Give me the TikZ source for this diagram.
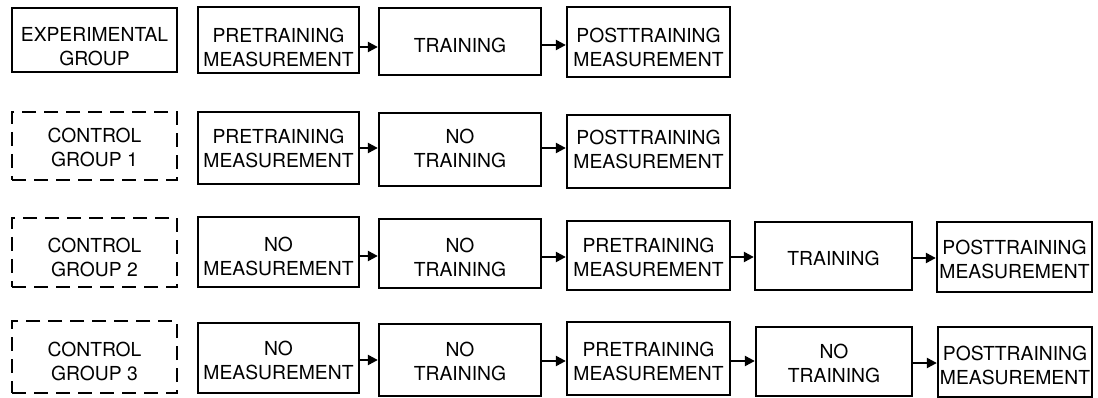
\documentclass[tikz,border=0pt]{standalone}
\usepackage{fontspec}
\setmainfont{TeX Gyre Heros}
\usetikzlibrary{arrows.meta}

% box with its label: style, name, x1, y1, x2, y2, label y, label
\newcommand\flowbox[8]{%
  \pgfmathsetmacro\bw{#5-#3}%
  \pgfmathsetmacro\bh{#6-#4}%
  \node[#1, minimum width=\bw pt, minimum height=\bh pt] (#2) at ({(#3+#5)/2},{(#4+#6)/2}) {};
  \node[lbl] (#2-t) at ({(#3+#5)/2},#7) {#8};
}
\newcommand\flowarrow[2]{\draw[arr] (#1.east |- #1-t.center) -- (#2.west |- #1-t.center);}

\begin{document}
\begin{tikzpicture}[x=1pt,y=-1pt,
  solidbox/.style={draw, line width=2.3pt, inner sep=0pt},
  dashbox/.style={draw, line width=2.3pt, inner sep=0pt, dash pattern=on 14pt off 8pt},
  lbl/.style={inner sep=0pt, align=center, font=\fontsize{19.3}{24}\selectfont},
  arr/.style={line width=2.2pt, -{Triangle[length=10pt,width=10pt]}}]
\useasboundingbox (0,0) rectangle (1098,398);

% experimental group
\flowbox{solidbox}{g0}{12}{8}{177}{72}{47}{EXPERIMENTAL\\GROUP}
\flowbox{solidbox}{a1}{198}{7}{359}{73}{47}{PRETRAINING\\MEASUREMENT}
\flowbox{solidbox}{a2}{379}{8}{541}{75}{45}{TRAINING}
\flowbox{solidbox}{a3}{567}{7}{730}{77}{47}{POSTTRAINING\\MEASUREMENT}
\flowarrow{a1}{a2}
\flowarrow{a2}{a3}

% control group 1
\flowbox{dashbox}{g1}{12}{112}{177}{180}{147}{CONTROL\\GROUP 1}
\flowbox{solidbox}{b1}{198}{112}{359}{184}{148}{PRETRAINING\\MEASUREMENT}
\flowbox{solidbox}{b2}{379}{113}{541}{186}{148}{NO\\TRAINING}
\flowbox{solidbox}{b3}{567}{115}{730}{188}{149}{POSTTRAINING\\MEASUREMENT}
\flowarrow{b1}{b2}
\flowarrow{b2}{b3}

% control group 2
\flowbox{dashbox}{g2}{12}{218}{177}{287}{257}{CONTROL\\GROUP 2}
\flowbox{solidbox}{c1}{198}{217}{359}{287}{256}{NO\\MEASUREMENT}
\flowbox{solidbox}{c2}{379}{219}{541}{288}{257}{NO\\TRAINING}
\flowbox{solidbox}{c3}{567}{221}{730}{290}{257}{PRETRAINING\\MEASUREMENT}
\flowbox{solidbox}{c4}{755}{222}{912}{290}{258}{TRAINING}
\flowbox{solidbox}{c5}{937}{222}{1092}{292}{259}{POSTTRAINING\\MEASUREMENT}
\flowarrow{c1}{c2}
\flowarrow{c2}{c3}
\flowarrow{c3}{c4}
\flowarrow{c4}{c5}

% control group 3
\flowbox{dashbox}{g3}{12}{321}{177}{393}{361}{CONTROL\\GROUP 3}
\flowbox{solidbox}{d1}{198}{323}{359}{393}{360}{NO\\MEASUREMENT}
\flowbox{solidbox}{d2}{379}{324}{541}{396}{361}{NO\\TRAINING}
\flowbox{solidbox}{d3}{567}{322}{730}{395}{361}{PRETRAINING\\MEASUREMENT}
\flowbox{solidbox}{d4}{756}{327}{912}{396}{363}{NO\\TRAINING}
\flowbox{solidbox}{d5}{938}{327}{1092}{397}{365}{POSTTRAINING\\MEASUREMENT}
\flowarrow{d1}{d2}
\flowarrow{d2}{d3}
\flowarrow{d3}{d4}
\flowarrow{d4}{d5}
\end{tikzpicture}
\end{document}
